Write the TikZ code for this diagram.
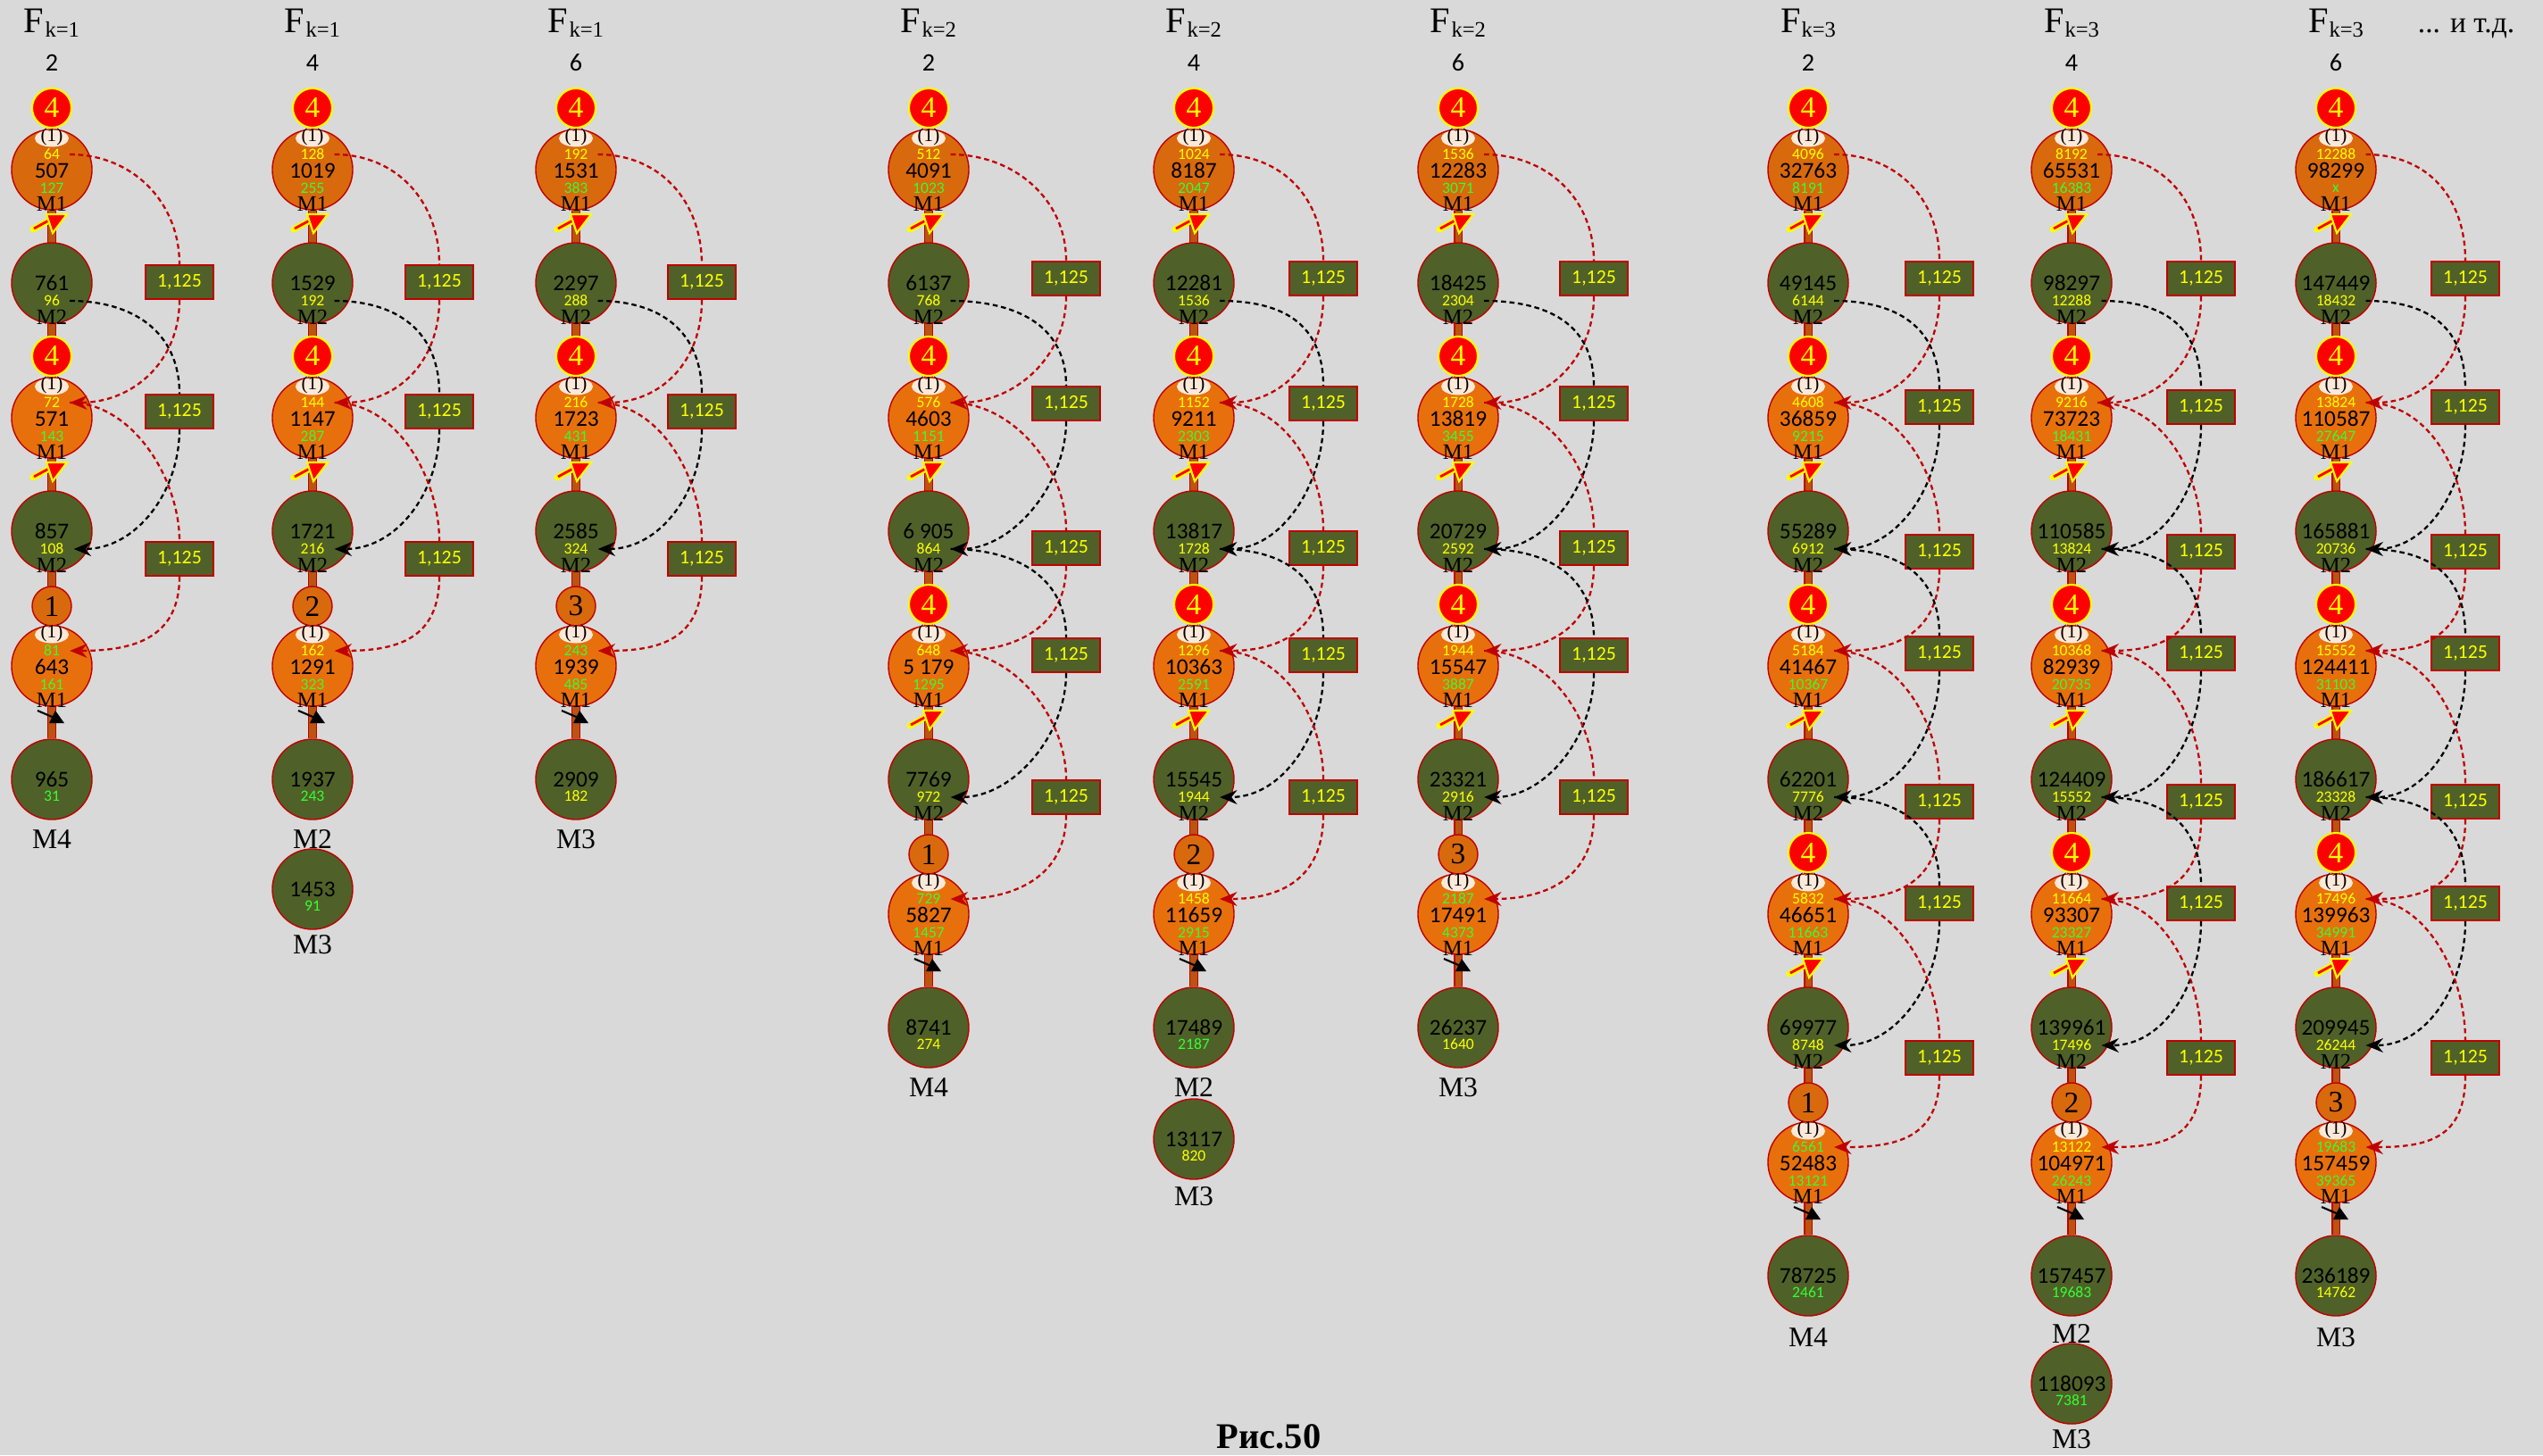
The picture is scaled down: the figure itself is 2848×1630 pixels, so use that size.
\documentclass[tikz,border=0pt]{standalone}
\usepackage{fontspec}
\setmainfont{Liberation Serif}
\newfontfamily\numfont{Carlito}
\usepackage{xcolor}
\usepackage{tikz}
\usetikzlibrary{arrows.meta,shapes.geometric}
\pgfdeclarelayer{background}
\pgfsetlayers{background,main}

\definecolor{bggrey}{RGB}{217,217,217}
\definecolor{ornA}{RGB}{217,105,13}
\definecolor{ornB}{RGB}{232,112,12}
\definecolor{olivec}{RGB}{79,97,40}
\definecolor{dred}{RGB}{192,0,0}
\definecolor{stemc}{RGB}{186,84,16}
\definecolor{peach}{RGB}{252,233,217}
\definecolor{ylw}{RGB}{255,255,0}
\definecolor{grn}{RGB}{51,255,51}

\newcommand\fk[1]{F\kern.3pt\raisebox{-1.2pt}{\fontsize{7}{7}\selectfont k=#1}}
\newcommand\stageO[8][onode]{%
  \node[#1] (#2) at (#3,#4) {};
  \node[pill] (#2p) at (#3,#4-35) {(1)};
  \node[small,text=#5] (#2t) at (#3,#4-17) {#6};
  \node[big] (#2n) at (#3,#4+1) {#7};
  \node[small,text=grn] (#2b) at (#3,#4+21) {#8};
  \node[mtext] (#2m) at (#3,#4+38) {M1};}
\newcommand\stageG[6]{%
  \node[gnode] (#1) at (#2,#3) {};
  \node[big] (#1n) at (#2,#3) {#4};
  \node[small,text=#5] (#1s) at (#2,#3+20) {#6};
  \node[mtext] (#1m) at (#2,#3+38) {M2};}
\newcommand\stageE[6]{%
  \node[gnode] (#1) at (#2,#3) {};
  \node[big] (#1n) at (#2,#3) {#4};
  \node[small,text=#5] (#1s) at (#2,#3+19) {#6};}
\newcommand\passmark[2]{%
  \draw[ylw, line width=2pt, line cap=round] (#1-21,#2+67) -- (#1+4,#2+53);
  \draw[red, line width=0.8pt] (#1-20,#2+66) -- (#1+4,#2+53);
  \filldraw[fill=red, draw=ylw, line width=0.6pt] (#1-6,#2+50) -- (#1+17,#2+50) -- (#1+1,#2+71) -- cycle;}
\newcommand\lastmark[2]{%
  \draw[line width=0.6pt] (#1-16,#2+50) -- (#1+5,#2+59);
  \fill (#1+4,#2+50) -- (#1+14,#2+64) -- (#1-3,#2+64) -- cycle;}
\newcommand\loopR[3]{\draw[rarc] (#1.east) .. controls +(70,0) and +(0,-70) .. (#2.north)
  (#2.south) .. controls +(0,70) and +(70,0) .. (#3.east);}
\newcommand\loopB[3]{\draw[barc] (#1.east) .. controls +(70,0) and +(0,-70) .. (#2.north)
  (#2.south) .. controls +(0,70) and +(70,0) .. (#3.east);}

\begin{document}
\begin{tikzpicture}[
    x=0.01cm, y=-0.01cm,
    onode/.style={circle, draw=dred, line width=0.4pt, fill=ornB, minimum size=0.9cm, inner sep=0pt},
    onodetop/.style={onode, fill=ornA},
    gnode/.style={circle, draw=dred, line width=0.4pt, fill=olivec, minimum size=0.9cm, inner sep=0pt},
    four/.style={circle, draw=ylw, line width=0.6pt, fill=red, text=ylw, minimum size=0.44cm, inner sep=0pt, font=\fontsize{9.5}{9.5}\selectfont},
    turn/.style={circle, draw=dred, line width=0.4pt, fill=ornA, minimum size=0.44cm, inner sep=0pt, font=\fontsize{9.5}{9.5}\selectfont},
    pill/.style={ellipse, fill=peach, minimum width=0.38cm, minimum height=0.19cm, inner sep=0pt, text height=3pt, text depth=0.8pt, font=\fontsize{6}{6}\selectfont},
    big/.style={inner sep=0pt, font=\numfont\fontsize{7.2}{7.2}\selectfont},
    small/.style={inner ysep=0pt, inner xsep=3pt, font=\numfont\fontsize{5}{5}\selectfont},
    mtext/.style={inner sep=0pt, font=\fontsize{7}{7}\selectfont},
    mlabel/.style={inner sep=0pt, font=\fontsize{9}{9}\selectfont},
    coef/.style={draw=dred, line width=0.5pt, fill=olivec, text=ylw, minimum width=0.76cm, minimum height=0.38cm, inner sep=0pt, font=\numfont\fontsize{6.2}{6.2}\selectfont},
    head/.style={anchor=base, inner sep=0pt, font=\fontsize{11.5}{12}\selectfont},
    hnum/.style={anchor=base, inner sep=0pt, font=\numfont\fontsize{8}{8}\selectfont},
    rarc/.style={draw=dred, line width=0.65pt, dash pattern=on 1.6pt off 1.1pt, -{Stealth[length=5.5pt,width=4.5pt]}},
    barc/.style={draw=black, line width=0.65pt, dash pattern=on 1.6pt off 1.1pt, -{Stealth[length=5.5pt,width=4.5pt]}},
    stem/.style={draw=dred, line width=2.8pt, postaction={draw=stemc, line width=2pt}}
]
\useasboundingbox (0,0) rectangle (2848,1630);

% k = 1
\node[head] (c1h) at (58,37) {\fk{1}};
\node[hnum] (c1v) at (58,80) {2};
\node[four] (c1f1) at (58,121) {4};
\stageO[onodetop]{c1o1}{58}{190}{ylw}{64}{507}{127}
\stageG{c1g1}{58}{317}{761}{ylw}{96}
\node[four] (c1f2) at (58,399) {4};
\stageO{c1o2}{58}{468}{ylw}{72}{571}{143}
\stageG{c1g2}{58}{595}{857}{ylw}{108}
\node[turn] (c1r) at (58,679) {1};
\stageO{c1o3}{58}{746}{grn}{81}{643}{161}
\stageE{c1g3}{58}{873}{965}{grn}{31}
\node[mlabel] (c1l) at (58,940) {M4};
\passmark{58}{190} \passmark{58}{468} \lastmark{58}{746}
\node[coef] (c1k1) at (201,316) {1,125};
\node[coef] (c1k2) at (201,461) {1,125};
\node[coef] (c1k3) at (201,626) {1,125};
\loopR{c1o1t}{c1k1}{c1o2t}
\loopB{c1g1s}{c1k2}{c1g2s}
\loopR{c1o2t}{c1k3}{c1o3t}

\node[head] (c2h) at (350,37) {\fk{1}};
\node[hnum] (c2v) at (350,80) {4};
\node[four] (c2f1) at (350,121) {4};
\stageO[onodetop]{c2o1}{350}{190}{ylw}{128}{1019}{255}
\stageG{c2g1}{350}{317}{1529}{ylw}{192}
\node[four] (c2f2) at (350,399) {4};
\stageO{c2o2}{350}{468}{ylw}{144}{1147}{287}
\stageG{c2g2}{350}{595}{1721}{ylw}{216}
\node[turn] (c2r) at (350,679) {2};
\stageO{c2o3}{350}{746}{ylw}{162}{1291}{323}
\stageE{c2g3}{350}{873}{1937}{grn}{243}
\node[mlabel] (c2l) at (350,940) {M2};
\stageE{c2g4}{350}{996}{1453}{grn}{91}
\node[mlabel] (c2l2) at (350,1058) {M3};
\passmark{350}{190} \passmark{350}{468} \lastmark{350}{746}
\node[coef] (c2k1) at (492,316) {1,125};
\node[coef] (c2k2) at (492,461) {1,125};
\node[coef] (c2k3) at (492,626) {1,125};
\loopR{c2o1t}{c2k1}{c2o2t}
\loopB{c2g1s}{c2k2}{c2g2s}
\loopR{c2o2t}{c2k3}{c2o3t}

\node[head] (c3h) at (645,37) {\fk{1}};
\node[hnum] (c3v) at (645,80) {6};
\node[four] (c3f1) at (645,121) {4};
\stageO[onodetop]{c3o1}{645}{190}{ylw}{192}{1531}{383}
\stageG{c3g1}{645}{317}{2297}{ylw}{288}
\node[four] (c3f2) at (645,399) {4};
\stageO{c3o2}{645}{468}{ylw}{216}{1723}{431}
\stageG{c3g2}{645}{595}{2585}{ylw}{324}
\node[turn] (c3r) at (645,679) {3};
\stageO{c3o3}{645}{746}{grn}{243}{1939}{485}
\stageE{c3g3}{645}{873}{2909}{ylw}{182}
\node[mlabel] (c3l) at (645,940) {M3};
\passmark{645}{190} \passmark{645}{468} \lastmark{645}{746}
\node[coef] (c3k1) at (786,316) {1,125};
\node[coef] (c3k2) at (786,461) {1,125};
\node[coef] (c3k3) at (786,626) {1,125};
\loopR{c3o1t}{c3k1}{c3o2t}
\loopB{c3g1s}{c3k2}{c3g2s}
\loopR{c3o2t}{c3k3}{c3o3t}

% k = 2
\node[head] (c4h) at (1040,37) {\fk{2}};
\node[hnum] (c4v) at (1040,80) {2};
\node[four] (c4f1) at (1040,121) {4};
\stageO[onodetop]{c4o1}{1040}{190}{ylw}{512}{4091}{1023}
\stageG{c4g1}{1040}{317}{6137}{ylw}{768}
\node[four] (c4f2) at (1040,399) {4};
\stageO{c4o2}{1040}{468}{ylw}{576}{4603}{1151}
\stageG{c4g2}{1040}{595}{6 905}{ylw}{864}
\node[four] (c4f3) at (1040,677) {4};
\stageO{c4o3}{1040}{746}{ylw}{648}{5 179}{1295}
\stageG{c4g3}{1040}{873}{7769}{ylw}{972}
\node[turn] (c4r) at (1040,957) {1};
\stageO{c4o4}{1040}{1024}{grn}{729}{5827}{1457}
\stageE{c4g4}{1040}{1151}{8741}{ylw}{274}
\node[mlabel] (c4l) at (1040,1218) {M4};
\passmark{1040}{190} \passmark{1040}{468} \passmark{1040}{746} \lastmark{1040}{1024}
\node[coef] (c4k1) at (1194,312) {1,125};
\node[coef] (c4k2) at (1194,452) {1,125};
\node[coef] (c4k3) at (1194,614) {1,125};
\node[coef] (c4k4) at (1194,734) {1,125};
\node[coef] (c4k5) at (1194,893) {1,125};
\loopR{c4o1t}{c4k1}{c4o2t}
\loopB{c4g1s}{c4k2}{c4g2s}
\loopR{c4o2t}{c4k3}{c4o3t}
\loopB{c4g2s}{c4k4}{c4g3s}
\loopR{c4o3t}{c4k5}{c4o4t}

\node[head] (c5h) at (1337,37) {\fk{2}};
\node[hnum] (c5v) at (1337,80) {4};
\node[four] (c5f1) at (1337,121) {4};
\stageO[onodetop]{c5o1}{1337}{190}{ylw}{1024}{8187}{2047}
\stageG{c5g1}{1337}{317}{12281}{ylw}{1536}
\node[four] (c5f2) at (1337,399) {4};
\stageO{c5o2}{1337}{468}{ylw}{1152}{9211}{2303}
\stageG{c5g2}{1337}{595}{13817}{ylw}{1728}
\node[four] (c5f3) at (1337,677) {4};
\stageO{c5o3}{1337}{746}{ylw}{1296}{10363}{2591}
\stageG{c5g3}{1337}{873}{15545}{ylw}{1944}
\node[turn] (c5r) at (1337,957) {2};
\stageO{c5o4}{1337}{1024}{ylw}{1458}{11659}{2915}
\stageE{c5g4}{1337}{1151}{17489}{grn}{2187}
\node[mlabel] (c5l) at (1337,1218) {M2};
\stageE{c5g5}{1337}{1276}{13117}{ylw}{820}
\node[mlabel] (c5l2) at (1337,1340) {M3};
\passmark{1337}{190} \passmark{1337}{468} \passmark{1337}{746} \lastmark{1337}{1024}
\node[coef] (c5k1) at (1482,312) {1,125};
\node[coef] (c5k2) at (1482,452) {1,125};
\node[coef] (c5k3) at (1482,614) {1,125};
\node[coef] (c5k4) at (1482,734) {1,125};
\node[coef] (c5k5) at (1482,893) {1,125};
\loopR{c5o1t}{c5k1}{c5o2t}
\loopB{c5g1s}{c5k2}{c5g2s}
\loopR{c5o2t}{c5k3}{c5o3t}
\loopB{c5g2s}{c5k4}{c5g3s}
\loopR{c5o3t}{c5k5}{c5o4t}

\node[head] (c6h) at (1633,37) {\fk{2}};
\node[hnum] (c6v) at (1633,80) {6};
\node[four] (c6f1) at (1633,121) {4};
\stageO[onodetop]{c6o1}{1633}{190}{ylw}{1536}{12283}{3071}
\stageG{c6g1}{1633}{317}{18425}{ylw}{2304}
\node[four] (c6f2) at (1633,399) {4};
\stageO{c6o2}{1633}{468}{ylw}{1728}{13819}{3455}
\stageG{c6g2}{1633}{595}{20729}{ylw}{2592}
\node[four] (c6f3) at (1633,677) {4};
\stageO{c6o3}{1633}{746}{ylw}{1944}{15547}{3887}
\stageG{c6g3}{1633}{873}{23321}{ylw}{2916}
\node[turn] (c6r) at (1633,957) {3};
\stageO{c6o4}{1633}{1024}{grn}{2187}{17491}{4373}
\stageE{c6g4}{1633}{1151}{26237}{ylw}{1640}
\node[mlabel] (c6l) at (1633,1218) {M3};
\passmark{1633}{190} \passmark{1633}{468} \passmark{1633}{746} \lastmark{1633}{1024}
\node[coef] (c6k1) at (1785,312) {1,125};
\node[coef] (c6k2) at (1785,452) {1,125};
\node[coef] (c6k3) at (1785,614) {1,125};
\node[coef] (c6k4) at (1785,734) {1,125};
\node[coef] (c6k5) at (1785,893) {1,125};
\loopR{c6o1t}{c6k1}{c6o2t}
\loopB{c6g1s}{c6k2}{c6g2s}
\loopR{c6o2t}{c6k3}{c6o3t}
\loopB{c6g2s}{c6k4}{c6g3s}
\loopR{c6o3t}{c6k5}{c6o4t}

% k = 3
\node[head] (c7h) at (2025,37) {\fk{3}};
\node[hnum] (c7v) at (2025,80) {2};
\node[four] (c7f1) at (2025,121) {4};
\stageO[onodetop]{c7o1}{2025}{190}{ylw}{4096}{32763}{8191}
\stageG{c7g1}{2025}{317}{49145}{ylw}{6144}
\node[four] (c7f2) at (2025,399) {4};
\stageO{c7o2}{2025}{468}{ylw}{4608}{36859}{9215}
\stageG{c7g2}{2025}{595}{55289}{ylw}{6912}
\node[four] (c7f3) at (2025,677) {4};
\stageO{c7o3}{2025}{746}{ylw}{5184}{41467}{10367}
\stageG{c7g3}{2025}{873}{62201}{ylw}{7776}
\node[four] (c7f4) at (2025,955) {4};
\stageO{c7o4}{2025}{1024}{ylw}{5832}{46651}{11663}
\stageG{c7g4}{2025}{1151}{69977}{ylw}{8748}
\node[turn] (c7r) at (2025,1235) {1};
\stageO{c7o5}{2025}{1302}{grn}{6561}{52483}{13121}
\stageE{c7g5}{2025}{1429}{78725}{grn}{2461}
\node[mlabel] (c7l) at (2025,1498) {M4};
\passmark{2025}{190} \passmark{2025}{468} \passmark{2025}{746} \passmark{2025}{1024} \lastmark{2025}{1302}
\node[coef] (c7k1) at (2172,312) {1,125};
\node[coef] (c7k2) at (2172,456) {1,125};
\node[coef] (c7k3) at (2172,618) {1,125};
\node[coef] (c7k4) at (2172,732) {1,125};
\node[coef] (c7k5) at (2172,898) {1,125};
\node[coef] (c7k6) at (2172,1012) {1,125};
\node[coef] (c7k7) at (2172,1185) {1,125};
\loopR{c7o1t}{c7k1}{c7o2t}
\loopB{c7g1s}{c7k2}{c7g2s}
\loopR{c7o2t}{c7k3}{c7o3t}
\loopB{c7g2s}{c7k4}{c7g3s}
\loopR{c7o3t}{c7k5}{c7o4t}
\loopB{c7g3s}{c7k6}{c7g4s}
\loopR{c7o4t}{c7k7}{c7o5t}

\node[head] (c8h) at (2320,37) {\fk{3}};
\node[hnum] (c8v) at (2320,80) {4};
\node[four] (c8f1) at (2320,121) {4};
\stageO[onodetop]{c8o1}{2320}{190}{ylw}{8192}{65531}{16383}
\stageG{c8g1}{2320}{317}{98297}{ylw}{12288}
\node[four] (c8f2) at (2320,399) {4};
\stageO{c8o2}{2320}{468}{ylw}{9216}{73723}{18431}
\stageG{c8g2}{2320}{595}{110585}{ylw}{13824}
\node[four] (c8f3) at (2320,677) {4};
\stageO{c8o3}{2320}{746}{ylw}{10368}{82939}{20735}
\stageG{c8g3}{2320}{873}{124409}{ylw}{15552}
\node[four] (c8f4) at (2320,955) {4};
\stageO{c8o4}{2320}{1024}{ylw}{11664}{93307}{23327}
\stageG{c8g4}{2320}{1151}{139961}{ylw}{17496}
\node[turn] (c8r) at (2320,1235) {2};
\stageO{c8o5}{2320}{1302}{ylw}{13122}{104971}{26243}
\stageE{c8g5}{2320}{1429}{157457}{grn}{19683}
\node[mlabel] (c8l) at (2320,1494) {M2};
\stageE{c8g6}{2320}{1550}{118093}{grn}{7381}
\node[mlabel] (c8l2) at (2320,1612) {M3};
\passmark{2320}{190} \passmark{2320}{468} \passmark{2320}{746} \passmark{2320}{1024} \lastmark{2320}{1302}
\node[coef] (c8k1) at (2465,312) {1,125};
\node[coef] (c8k2) at (2465,456) {1,125};
\node[coef] (c8k3) at (2465,618) {1,125};
\node[coef] (c8k4) at (2465,732) {1,125};
\node[coef] (c8k5) at (2465,898) {1,125};
\node[coef] (c8k6) at (2465,1012) {1,125};
\node[coef] (c8k7) at (2465,1185) {1,125};
\loopR{c8o1t}{c8k1}{c8o2t}
\loopB{c8g1s}{c8k2}{c8g2s}
\loopR{c8o2t}{c8k3}{c8o3t}
\loopB{c8g2s}{c8k4}{c8g3s}
\loopR{c8o3t}{c8k5}{c8o4t}
\loopB{c8g3s}{c8k6}{c8g4s}
\loopR{c8o4t}{c8k7}{c8o5t}

\node[head] (c9h) at (2616,37) {\fk{3}};
\node[hnum] (c9v) at (2616,80) {6};
\node[four] (c9f1) at (2616,121) {4};
\stageO[onodetop]{c9o1}{2616}{190}{ylw}{12288}{98299}{x}
\stageG{c9g1}{2616}{317}{147449}{ylw}{18432}
\node[four] (c9f2) at (2616,399) {4};
\stageO{c9o2}{2616}{468}{ylw}{13824}{110587}{27647}
\stageG{c9g2}{2616}{595}{165881}{ylw}{20736}
\node[four] (c9f3) at (2616,677) {4};
\stageO{c9o3}{2616}{746}{ylw}{15552}{124411}{31103}
\stageG{c9g3}{2616}{873}{186617}{ylw}{23328}
\node[four] (c9f4) at (2616,955) {4};
\stageO{c9o4}{2616}{1024}{ylw}{17496}{139963}{34991}
\stageG{c9g4}{2616}{1151}{209945}{ylw}{26244}
\node[turn] (c9r) at (2616,1235) {3};
\stageO{c9o5}{2616}{1302}{grn}{19683}{157459}{39365}
\stageE{c9g5}{2616}{1429}{236189}{ylw}{14762}
\node[mlabel] (c9l) at (2616,1498) {M3};
\passmark{2616}{190} \passmark{2616}{468} \passmark{2616}{746} \passmark{2616}{1024} \lastmark{2616}{1302}
\node[coef] (c9k1) at (2761,312) {1,125};
\node[coef] (c9k2) at (2761,456) {1,125};
\node[coef] (c9k3) at (2761,618) {1,125};
\node[coef] (c9k4) at (2761,732) {1,125};
\node[coef] (c9k5) at (2761,898) {1,125};
\node[coef] (c9k6) at (2761,1012) {1,125};
\node[coef] (c9k7) at (2761,1185) {1,125};
\loopR{c9o1t}{c9k1}{c9o2t}
\loopB{c9g1s}{c9k2}{c9g2s}
\loopR{c9o2t}{c9k3}{c9o3t}
\loopB{c9g2s}{c9k4}{c9g3s}
\loopR{c9o3t}{c9k5}{c9o4t}
\loopB{c9g3s}{c9k6}{c9g4s}
\loopR{c9o4t}{c9k7}{c9o5t}

\node[anchor=base, inner sep=0pt, font=\fontsize{9.5}{10}\selectfont] (etc) at (2762,37) {... и т.д.};
\node[inner sep=0pt, font=\bfseries\fontsize{11.5}{12}\selectfont] (cap) at (1421,1609) {Рис.50};

\begin{pgfonlayer}{background}
\fill[bggrey] (0,0) rectangle (2848,1630);
\draw[stem] (c1o1) -- (c1g3);
\draw[stem] (c2o1) -- (c2g3);
\draw[stem] (c3o1) -- (c3g3);
\draw[stem] (c4o1) -- (c4g4);
\draw[stem] (c5o1) -- (c5g4);
\draw[stem] (c6o1) -- (c6g4);
\draw[stem] (c7o1) -- (c7g5);
\draw[stem] (c8o1) -- (c8g5);
\draw[stem] (c9o1) -- (c9g5);
\end{pgfonlayer}
\end{tikzpicture}
\end{document}
